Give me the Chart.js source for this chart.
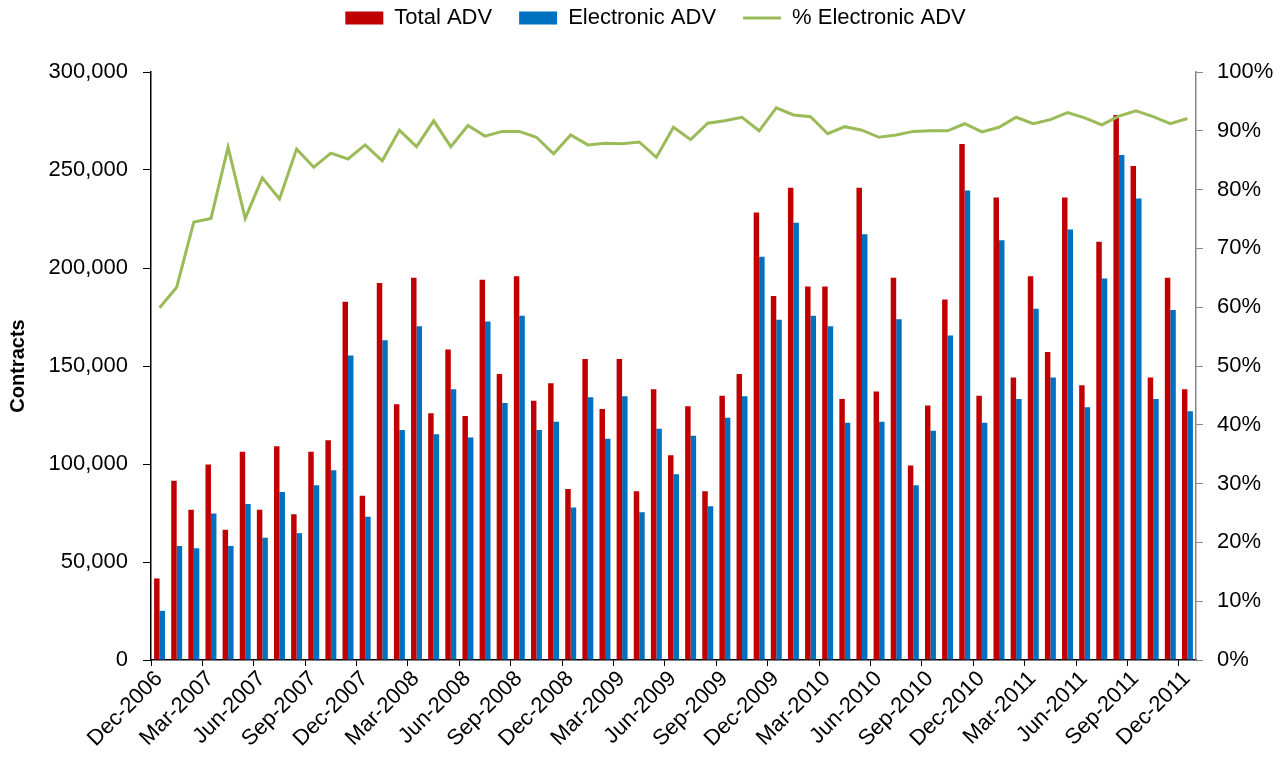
<!DOCTYPE html>
<html>
<head>
<meta charset="utf-8">
<script src="https://cdn.jsdelivr.net/npm/chart.js@4.4.0/dist/chart.umd.min.js"></script>
<style>
html, body { margin: 0; padding: 0; background: #fff; }
</style>
</head>
<body>
<canvas id="canvas" width="1287" height="763"></canvas>
<script>
var tickLabels = ['Dec-2006', 'Mar-2007', 'Jun-2007', 'Sep-2007', 'Dec-2007', 'Mar-2008', 'Jun-2008',
    'Sep-2008', 'Dec-2008', 'Mar-2009', 'Jun-2009', 'Sep-2009', 'Dec-2009', 'Mar-2010', 'Jun-2010',
    'Sep-2010', 'Dec-2010', 'Mar-2011', 'Jun-2011', 'Sep-2011', 'Dec-2011'];

// monthly, Dec-2006 .. Dec-2011
var totalAdv = [41600,
    91500, 76600, 99800, 66500, 106300, 76600, 109100, 74300, 106300, 112100, 182800, 83800,
    192300, 130500, 195000, 125900, 158400, 124500, 194000, 145900, 195800, 132300, 141200, 87300,
    153600, 128100, 153600, 86100, 138200, 104500, 129500, 86100, 134800, 145900, 228300, 185700,
    241000, 190500, 190500, 133100, 241000, 137000, 195000, 99200, 129900, 183900, 263300, 134800,
    236000, 144100, 195800, 157200, 236000, 140200, 213400, 278000, 252100, 144100, 195000, 138200];

var electronicAdv = [25100,
    58200, 57000, 74800, 58200, 79600, 62400, 85700, 64700, 89100, 96800, 155400, 73100,
    163200, 117400, 170300, 115200, 138200, 113500, 172700, 131100, 175600, 117400, 121600, 77800,
    134000, 112900, 134600, 75400, 118000, 94800, 114400, 78400, 123600, 134600, 205700, 173600,
    223100, 175600, 170300, 121000, 217200, 121600, 173800, 89100, 117000, 165500, 239600, 121000,
    214200, 133100, 179200, 144100, 219600, 128900, 194600, 257600, 235400, 133100, 178600, 126900];

var pctElectronic = [59.9,
    63.4, 74.5, 75.1, 87.2, 75.1, 82.0, 78.4, 86.9, 83.8, 86.2, 85.2, 87.6,
    84.9, 90.1, 87.3, 91.7, 87.3, 90.9, 89.1, 89.9, 89.9, 88.9, 86.1, 89.3,
    87.6, 87.9, 87.8, 88.1, 85.5, 90.6, 88.5, 91.3, 91.7, 92.3, 90.0, 93.9,
    92.7, 92.4, 89.5, 90.7, 90.1, 88.9, 89.3, 89.9, 90.0, 90.0, 91.2, 89.8,
    90.6, 92.3, 91.2, 91.9, 93.1, 92.2, 91.0, 92.5, 93.4, 92.4, 91.2, 92.1];

function monthPoints(values) {
    return values.map(function (v, i) { return { x: i + 0.5, y: v }; });
}

// legend sits higher than chart.js puts it, plot top is fixed at 72px
var legendTweak = {
    id: 'legendTweak',
    beforeInit: function (chart) {
        var fit = chart.legend.fit;
        chart.legend.fit = function () {
            fit.call(this);
            this.height = 72;
        };
    },
    afterLayout: function (chart) {
        chart.legend.top -= 20;
        chart.legend.bottom -= 20;
        chart.legend.left += 12;
        chart.legend.right += 12;
    }
};

Chart.defaults.font.family = "'Liberation Sans', Arial, sans-serif";
Chart.defaults.color = '#000';

window.onload = function () {
    var ctx = document.getElementById('canvas').getContext('2d');
    new Chart(ctx, {
        type: 'bar',
        data: {
            datasets: [{
                label: 'Total ADV',
                data: monthPoints(totalAdv),
                backgroundColor: '#C00000',
                yAxisID: 'y',
                pointStyle: 'rect',
                categoryPercentage: 0.64,
                barPercentage: 1.0,
                order: 1
            }, {
                label: 'Electronic ADV',
                data: monthPoints(electronicAdv),
                backgroundColor: '#0070C0',
                yAxisID: 'y',
                pointStyle: 'rect',
                categoryPercentage: 0.64,
                barPercentage: 1.0,
                order: 1
            }, {
                type: 'line',
                label: '% Electronic ADV',
                data: monthPoints(pctElectronic),
                borderColor: '#9BBB59',
                backgroundColor: '#9BBB59',
                borderWidth: 3,
                pointRadius: 0,
                pointStyle: 'line',
                tension: 0,
                yAxisID: 'y1',
                order: 0
            }]
        },
        options: {
            responsive: false,
            animation: false,
            devicePixelRatio: 1,
            layout: { padding: 0 },
            plugins: {
                tooltip: { enabled: false },
                legend: {
                    position: 'top',
                    labels: {
                        usePointStyle: true,
                        pointStyleWidth: 38,
                        boxHeight: 13,
                        padding: 27,
                        font: { size: 22 },
                        color: '#000',
                        sort: function (a, b) { return a.datasetIndex - b.datasetIndex; }
                    }
                }
            },
            scales: {
                x: {
                    type: 'linear',
                    min: 0,
                    max: 61,
                    offset: false,
                    afterBuildTicks: function (scale) {
                        scale.ticks = tickLabels.map(function (t, i) { return { value: i * 3 }; });
                    },
                    ticks: {
                        autoSkip: false,
                        minRotation: 45,
                        maxRotation: 45,
                        padding: 0,
                        labelOffset: 8,
                        font: { size: 22 },
                        callback: function (v) { return tickLabels[Math.round(v / 3)]; }
                    },
                    grid: { display: true, offset: false, drawOnChartArea: false, drawTicks: true, tickLength: 6, color: '#000' },
                    border: { color: '#000', width: 1.5 },
                    afterFit: function (scale) { scale.height = 103; }
                },
                y: {
                    type: 'linear',
                    position: 'left',
                    min: 0,
                    max: 300000,
                    ticks: {
                        stepSize: 50000,
                        padding: 15,
                        font: { size: 22 },
                        callback: function (v) { return v.toLocaleString('en-US'); }
                    },
                    grid: { display: true, drawOnChartArea: false, tickLength: 8, color: '#000' },
                    border: { color: '#000', width: 1.5 },
                    title: { display: true, text: 'Contracts', padding: { top: 6, bottom: 4 }, font: { size: 20, weight: 'bold' } },
                    afterFit: function (scale) { scale.width = 151; }
                },
                y1: {
                    type: 'linear',
                    position: 'right',
                    min: 0,
                    max: 100,
                    ticks: {
                        stepSize: 10,
                        padding: 14,
                        font: { size: 22 },
                        callback: function (v) { return v + '%'; }
                    },
                    grid: { display: true, drawOnChartArea: false, tickLength: 7, color: '#868686' },
                    border: { color: '#868686', width: 1.5 },
                    afterFit: function (scale) { scale.width = 91; }
                }
            }
        },
        plugins: [legendTweak]
    });
};
</script>
</body>
</html>
